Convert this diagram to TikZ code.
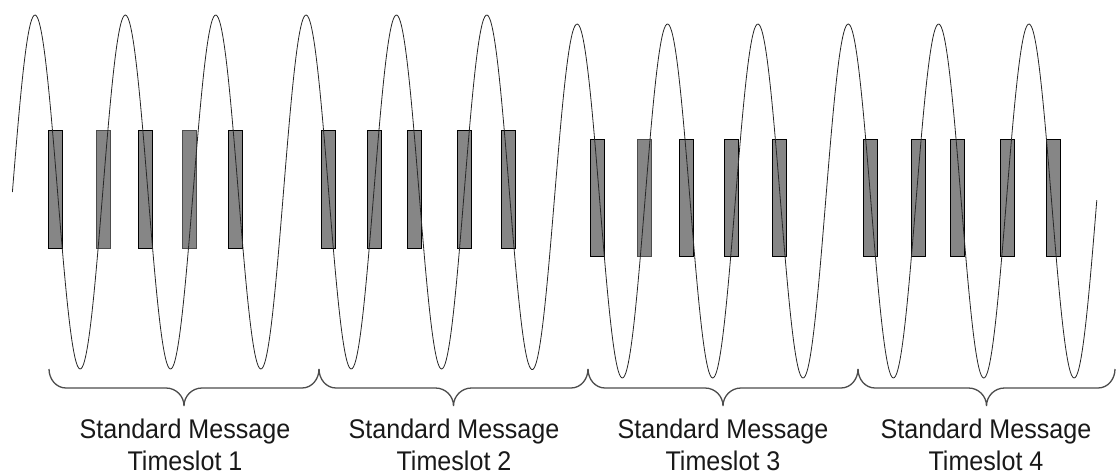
\documentclass[tikz,border=0pt]{standalone}
\usepackage{fontspec}
\setmainfont{Liberation Sans}
\begin{document}
\begin{tikzpicture}[x=1pt,y=-1pt,
  bit/.style={draw=black,line width=0.9pt,fill=bitgray},
  bitlight/.style={draw=black!70,line width=0.9pt,fill=bitgray},
  wave/.style={draw=black!85,line width=0.8pt},
  brace/.style={draw=black!70,line width=1.3pt},
  slotlabel/.style={font=\fontsize{27}{32}\selectfont,align=center,inner sep=0pt,anchor=north,xscale=0.93,text=black!90}]
\definecolor{bitgray}{RGB}{134,134,134}
\useasboundingbox (0,0) rectangle (1118,475);
% bits, group 1 and 2
\foreach \xa/\st in {48/bit,96/bitlight,138/bit,182/bitlight,228/bit,321/bit,367/bit,407/bit,457/bit,501/bit}
  \draw[\st] (\xa,130) rectangle ++(14,118);
% bits, group 3 and 4
\foreach \xa/\st in {590/bit,637/bitlight,679/bit,724/bit,772/bit,863/bit,911/bit,950/bit,1000/bit,1046/bit}
  \draw[\st] (\xa,139) rectangle ++(14,117);
% carrier
\draw[wave] plot[domain=12.4:1096.8,samples=901,smooth]
  (\x,{192+9*min(1,max(0,(\x-529)/47))-177*sin(3.98406*(\x-12.4))});
% braces
\foreach \xa/\xb in {49/319,319/588,588/858,858/1115}{
  \pgfmathsetmacro{\xc}{(\xa+\xb)/2}
  \draw[brace] (\xa,369) to[out=-90,in=180] (\xa+17,388) -- (\xc-18,388)
     to[out=0,in=90] (\xc,406) to[out=90,in=180] (\xc+18,388) -- (\xb-17,388)
     to[out=0,in=-90] (\xb,369);
}
% labels
\node[slotlabel] (t1) at (185,419) {Standard Message\\Timeslot 1};
\node[slotlabel] (t2) at (454,419) {Standard Message\\Timeslot 2};
\node[slotlabel] (t3) at (723,419) {Standard Message\\Timeslot 3};
\node[slotlabel] (t4) at (986,419) {Standard Message\\Timeslot 4};
\end{tikzpicture}
\end{document}
